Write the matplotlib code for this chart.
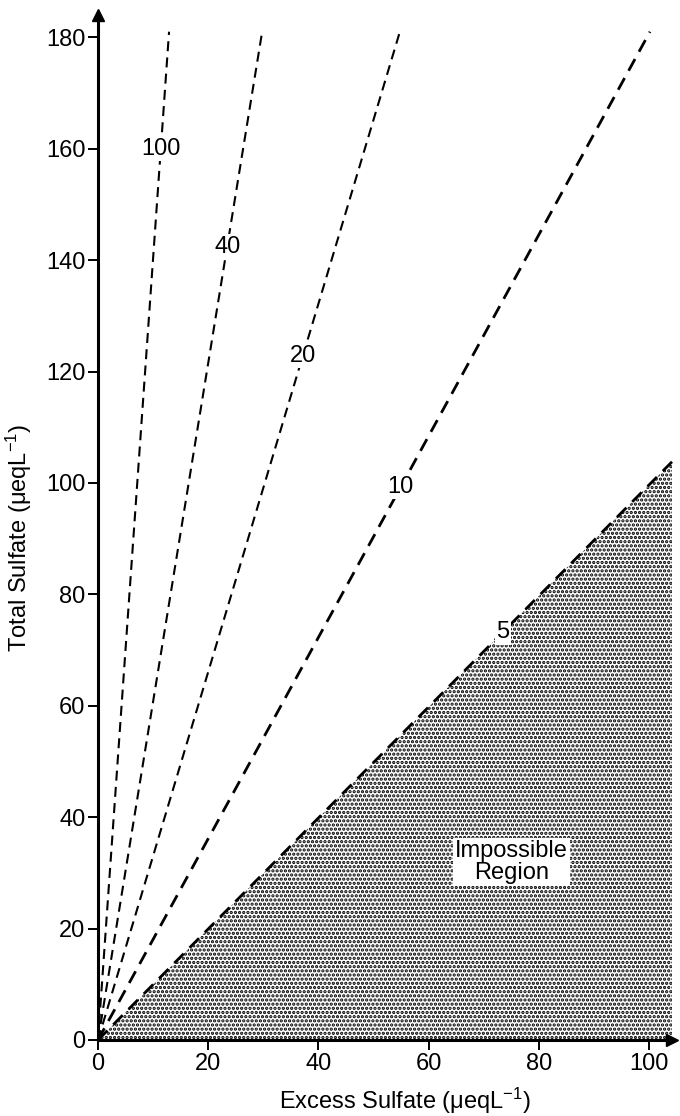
#!/usr/bin/env python3
# -*- coding: utf-8 -*-
"""Total vs excess sulfate with constant-ratio lines and the impossible region."""

import matplotlib
matplotlib.use('Agg')
import matplotlib.pyplot as plt

plt.rcParams['font.family'] = ['Liberation Sans', 'DejaVu Sans']
plt.rcParams['mathtext.fontset'] = 'custom'
plt.rcParams['mathtext.rm'] = 'Liberation Sans'
plt.rcParams['mathtext.it'] = 'Liberation Sans'
plt.rcParams['hatch.linewidth'] = 1.6

# ratio lines: label, end point of the dashed line
line_labels = ['100', '40', '20', '10', '5']
line_end_x = [12.9, 29.8, 54.8, 100.2, 104.2]
line_end_y = [181.0, 181.0, 181.0, 181.0, 103.8]
# where each label sits along its line (total sulfate value)
label_y = [160.0, 142.4, 122.8, 99.3, 73.2]

x_ticks = [0, 20, 40, 60, 80, 100]
y_ticks = [0, 20, 40, 60, 80, 100, 120, 140, 160, 180]

region_text = 'Impossible\nRegion'
region_x = 75.0
region_y = 32.0


def main():
    fig = plt.figure(figsize=(6.8, 11.16), dpi=100)
    ax = fig.add_axes([98 / 680, 76 / 1116, 574 / 680, 1025 / 1116])
    x_max = 104.2
    y_max = 184.0

    # shaded impossible region under the "5" line
    slope5 = line_end_y[-1] / line_end_x[-1]
    ax.fill_between([0, x_max], [0, 0], [0, slope5 * x_max],
                    facecolor='white', edgecolor='black', hatch='....',
                    linewidth=0, zorder=1)

    for lab, ex, ey, ly in zip(line_labels, line_end_x, line_end_y, label_y):
        lw = 2.0 if lab in ('5', '10') else 1.5
        ax.plot([0, ex], [0, ey], color='black', linewidth=lw,
                dashes=(4.8, 3.0), zorder=3, clip_on=False)
        lx = ly * ex / ey
        ax.text(lx, ly, lab, ha='center', va='center', fontsize=17, zorder=4,
                bbox=dict(facecolor='white', edgecolor='none', pad=1.0))

    ax.text(region_x, region_y, region_text, ha='center', va='center',
            fontsize=17, multialignment='center', linespacing=1.0, zorder=4,
            bbox=dict(facecolor='white', edgecolor='none', pad=1.5))

    ax.set_xlim(0, x_max)
    ax.set_ylim(0, y_max)
    ax.set_xticks(x_ticks)
    ax.set_yticks(y_ticks)
    ax.tick_params(axis='both', direction='out', length=7, width=1.4,
                   labelsize=17, pad=2)

    for side in ('top', 'right'):
        ax.spines[side].set_visible(False)
    for side in ('left', 'bottom'):
        ax.spines[side].set_linewidth(2.2)
        ax.spines[side].set_zorder(5)
    # arrow heads at the axis ends
    ax.plot(1, 0, '>k', markersize=9, transform=ax.get_yaxis_transform(), clip_on=False, zorder=6)
    ax.plot(0, 1, '^k', markersize=9, transform=ax.get_xaxis_transform(), clip_on=False, zorder=6)

    ax.set_xlabel('Excess Sulfate (μeqL$^{-1}$)', fontsize=17)
    ax.set_ylabel('Total Sulfate (μeqL$^{-1}$)', fontsize=17)
    ax.xaxis.set_label_coords(0.535, -0.045)
    ax.yaxis.set_label_coords(-0.112, 0.49)

    fig.savefig('out.png', dpi=100)
    plt.close(fig)


if __name__ == '__main__':
    main()
